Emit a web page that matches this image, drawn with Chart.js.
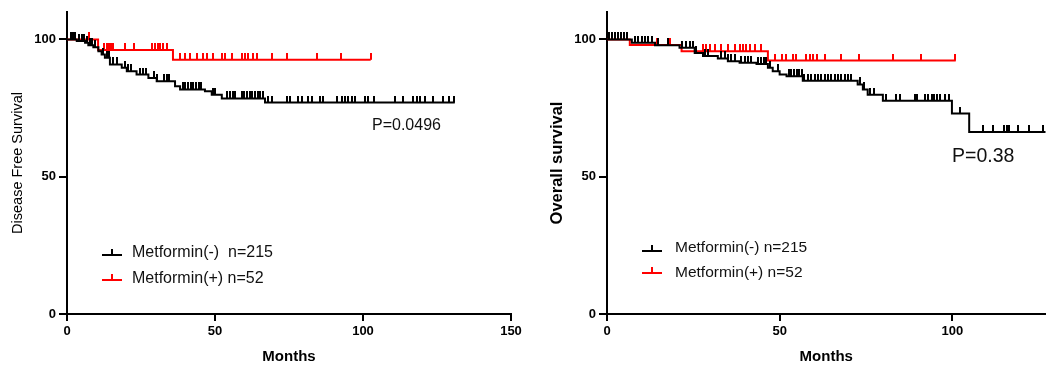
<!DOCTYPE html>
<html lang="en">
<head>
<meta charset="UTF-8">
<title>Metformin survival curves</title>
<script src="https://cdn.jsdelivr.net/npm/chart.js"></script>
<style>
  body { margin: 0; background: #fff; }
  .row { display: flex; width: 1046px; height: 367px; }
  canvas { display: block; flex: none; }
</style>
</head>
<body>
<div class="row">
  <canvas id="dfs" width="540" height="367"></canvas>
  <canvas id="os" width="506" height="367"></canvas>
</div>
<script>
// disease free survival, left panel (months / percent)
const dfsNegTimes = [0, 3.3, 6.1, 7.2, 8.9, 10.6, 11.7, 12.8, 14.5, 18.5, 20.2, 23.5, 27.5, 30.3, 36.5, 38.2, 46.6, 48.9, 52.3, 66.9, 131];
const dfsNegSurv = [100, 99.4, 98.8, 97.9, 97.2, 95.7, 94.5, 93.3, 90.9, 89.7, 88.4, 87.2, 86.0, 84.8, 83.0, 81.8, 81.1, 79.9, 78.5, 77.0, 77.0];
const dfsNegCensored = [1.2, 1.9, 2.6, 4.2, 5.0, 5.7, 6.6, 7.8, 8.6, 9.5, 12.3, 13.4, 14.3, 15.6, 16.8, 19.6, 20.7, 21.5,
  24.7, 25.8, 26.7, 29.5, 30.5, 32.8, 33.7, 34.6, 39.1, 40.0, 40.9, 41.8, 42.7, 43.6, 44.5, 45.4, 49.2, 50.1,
  54.2, 55.1, 56.0, 56.9, 59.0, 59.9, 60.8, 61.7, 62.6, 63.5, 64.4, 65.3, 66.1, 68.0, 69.2, 74.3, 75.3, 78.0, 79.4,
  81.4, 82.8, 85.5, 86.5, 91.2, 92.9, 93.9, 95.0, 96.3, 97.3, 100.7, 101.7, 103.7, 110.8, 113.5, 116.9, 118.2,
  119.3, 121.0, 123.6, 127.0, 129.0, 130.8];
const dfsPosTimes = [0, 10.5, 35.8, 102.6];
const dfsPosSurv = [100, 96.2, 92.6, 92.6];
const dfsPosCensored = [7.4, 12.6, 13.4, 14.2, 15.0, 15.6, 19.6, 22.6, 28.8, 29.7, 30.6, 31.5, 32.5, 33.7, 38.2, 39.9,
  41.6, 43.8, 46.0, 47.2, 49.4, 52.3, 53.4, 55.6, 59.0, 60.1, 61.2, 62.9, 64.1, 69.1, 74.2, 84.4, 92.4, 102.6];

// overall survival, right panel
const osNegTimes = [0, 7.2, 13.9, 21.0, 25.4, 27.8, 32.1, 35.0, 38.4, 43.3, 46.6, 48.0, 50.0, 52.0, 56.7, 72.6, 74.1, 75.5, 79.9, 99.9, 104.9, 130];
const osNegSurv = [100, 98.8, 97.9, 97.0, 95.1, 94.0, 93.1, 92.1, 91.5, 91.1, 89.7, 88.4, 87.2, 86.6, 85.0, 83.6, 81.8, 79.9, 77.7, 73.0, 66.3, 66.3];
const osNegCensored = [0.6, 1.4, 2.2, 3.1, 4.0, 4.9, 5.8, 8.1, 9.0, 10.0, 11.0, 12.0, 12.9, 14.8, 17.7, 21.6, 23.0, 24.0,
  25.0, 25.9, 28.3, 29.2, 33.1, 34.1, 35.0, 36.0, 37.0, 38.9, 39.9, 40.9, 41.8, 43.8, 44.7, 45.6, 46.1, 47.1, 49.4,
  52.6, 53.4, 54.1, 54.9, 55.7, 56.4, 57.2, 58.2, 59.1, 60.1, 61.0, 62.0, 63.0, 63.9, 64.9, 65.9, 66.8, 67.8,
  68.8, 69.7, 70.7, 73.3, 74.3, 76.2, 77.2, 80.9, 83.8, 84.8, 89.1, 89.8, 92.1, 93.1, 94.0, 94.8, 95.6, 96.3,
  98.0, 99.0, 102.1, 109.0, 111.9, 115.1, 115.8, 116.5, 118.9, 122.1, 126.2];
const osPosTimes = [0, 6.6, 21.6, 46.6, 101];
const osPosSurv = [100, 98.0, 95.7, 92.3, 92.3];
const osPosCensored = [14.4, 18.2, 27.8, 28.8, 29.8, 31.2, 33.1, 35.0, 37.0, 38.4, 39.4, 40.4, 41.3, 42.8, 44.7,
  48.6, 50.8, 51.7, 53.8, 54.8, 57.7, 58.7, 59.7, 60.8, 63.0, 67.8, 72.9, 82.9, 90.9, 100.9];

const xTicksDfs = [0, 50, 100, 150];
const xTicksOs = [0, 50, 100];
const yTicks = [0, 50, 100];
const legendDfs = ['Metformin(-)  n=215', 'Metformin(+) n=52'];
const legendOs = ['Metformin(-) n=215', 'Metformin(+) n=52'];

Chart.defaults.font.family = '"Liberation Sans", Arial, sans-serif';
Chart.defaults.color = '#000';

function survAt(times, surv, t) {
  let s = surv[0];
  for (let i = 0; i < times.length; i++) {
    if (times[i] <= t) s = surv[i];
  }
  return s;
}

function curve(times, surv) {
  return times.map((t, i) => ({x: t, y: surv[i]}));
}

function censorPoints(times, surv, cens) {
  return cens.map(t => ({x: t, y: survAt(times, surv, t)}));
}

// small upward tick used as censor mark
function tickMark(color) {
  const c = document.createElement('canvas');
  c.width = 2; c.height = 14;
  const g = c.getContext('2d');
  g.fillStyle = color;
  g.fillRect(0, 0, 2, 7);
  return c;
}

const notesPlugin = {
  id: 'notes',
  afterDraw(chart, args, opts) {
    const ctx = chart.ctx;
    ctx.save();
    opts.rows.forEach((r, i) => {
      ctx.strokeStyle = r.color;
      ctx.lineWidth = 2;
      ctx.beginPath();
      ctx.moveTo(opts.symX, r.lineY);
      ctx.lineTo(opts.symX + 20, r.lineY);
      ctx.moveTo(opts.symX + 10, r.lineY);
      ctx.lineTo(opts.symX + 10, r.lineY - 6);
      ctx.stroke();
      ctx.fillStyle = '#111';
      ctx.font = opts.legendFont;
      ctx.textBaseline = 'middle';
      ctx.textAlign = 'left';
      ctx.fillText(opts.labels[i], opts.textX, r.textY);
    });
    ctx.font = opts.pFont;
    ctx.fillStyle = '#111';
    ctx.fillText(opts.pText, opts.pX, opts.pY);
    ctx.restore();
  }
};

function makeChart(id, cfg) {
  const black = tickMark('#000');
  const red = tickMark('#ff0000');
  // tiny radius keeps the layout from reserving room for the marks
  const mark = {pointRadius: 0.5, pointBorderWidth: 0, pointHoverRadius: 0.5};
  return new Chart(document.getElementById(id), {
    type: 'scatter',
    data: {
      datasets: [
        {label: cfg.labels[0], data: curve(cfg.neg[0], cfg.neg[1]), showLine: true, stepped: true,
          borderColor: '#000', borderWidth: 2, pointRadius: 0},
        Object.assign({data: censorPoints(cfg.neg[0], cfg.neg[1], cfg.neg[2]), pointStyle: black}, mark),
        {label: cfg.labels[1], data: curve(cfg.pos[0], cfg.pos[1]), showLine: true, stepped: true,
          borderColor: '#ff0000', borderWidth: 2, pointRadius: 0},
        Object.assign({data: censorPoints(cfg.pos[0], cfg.pos[1], cfg.pos[2]), pointStyle: red}, mark)
      ]
    },
    options: {
      responsive: false,
      animation: false,
      layout: {padding: {top: 12, right: cfg.padRight, left: 0, bottom: 0}},
      plugins: {
        legend: {display: false},
        tooltip: {enabled: false},
        notes: cfg.notes
      },
      scales: {
        x: {
          type: 'linear', min: 0, max: cfg.xMax,
          afterBuildTicks: s => { s.ticks = cfg.xTicks.map(v => ({value: v})); },
          afterFit: s => { s.height = 53; s.paddingLeft = 0; s.paddingRight = 0; },
          border: {color: '#000', width: 2},
          grid: {drawOnChartArea: false, color: '#000', lineWidth: 2, tickLength: 7},
          ticks: {font: {size: 13, weight: 'bold'}, padding: 3, maxRotation: 0, autoSkip: false},
          title: {display: true, text: 'Months', font: {size: 15, weight: 'bold'}, padding: {bottom: 1}}
        },
        y: {
          type: 'linear', min: 0, max: 110,
          afterBuildTicks: s => { s.ticks = yTicks.map(v => ({value: v})); },
          afterFit: s => { s.width = 67; s.paddingTop = 0; s.paddingBottom = 0; },
          border: {color: '#000', width: 2},
          grid: {drawOnChartArea: false, color: '#000', lineWidth: 2, tickLength: 8},
          ticks: {font: {size: 13, weight: 'bold'}, padding: 3},
          title: {display: true, text: cfg.yTitle, font: cfg.yTitleFont, padding: {top: cfg.yTitlePad}}
        }
      }
    },
    plugins: [notesPlugin]
  });
}

makeChart('dfs', {
  neg: [dfsNegTimes, dfsNegSurv, dfsNegCensored],
  pos: [dfsPosTimes, dfsPosSurv, dfsPosCensored],
  labels: legendDfs,
  xMax: 150, xTicks: xTicksDfs, padRight: 29,
  yTitle: 'Disease Free Survival', yTitleFont: {size: 14.5}, yTitlePad: 9,
  notes: {
    labels: legendDfs, symX: 102, textX: 132, legendFont: '16px "Liberation Sans", Arial',
    rows: [{color: '#000', lineY: 255, textY: 253}, {color: '#ff0000', lineY: 280, textY: 279}],
    pText: 'P=0.0496', pX: 372, pY: 126, pFont: '16px "Liberation Sans", Arial'
  }
});

makeChart('os', {
  neg: [osNegTimes, osNegSurv, osNegCensored],
  pos: [osPosTimes, osPosSurv, osPosCensored],
  labels: legendOs,
  xMax: 127, xTicks: xTicksOs, padRight: 0,
  yTitle: 'Overall survival', yTitleFont: {size: 16.5, weight: 'bold'}, yTitlePad: 8,
  notes: {
    labels: legendOs, symX: 102, textX: 135, legendFont: '15.5px "Liberation Sans", Arial',
    rows: [{color: '#000', lineY: 251, textY: 248}, {color: '#ff0000', lineY: 273, textY: 273}],
    pText: 'P=0.38', pX: 412, pY: 157, pFont: '19.5px "Liberation Sans", Arial'
  }
});
</script>
</body>
</html>
